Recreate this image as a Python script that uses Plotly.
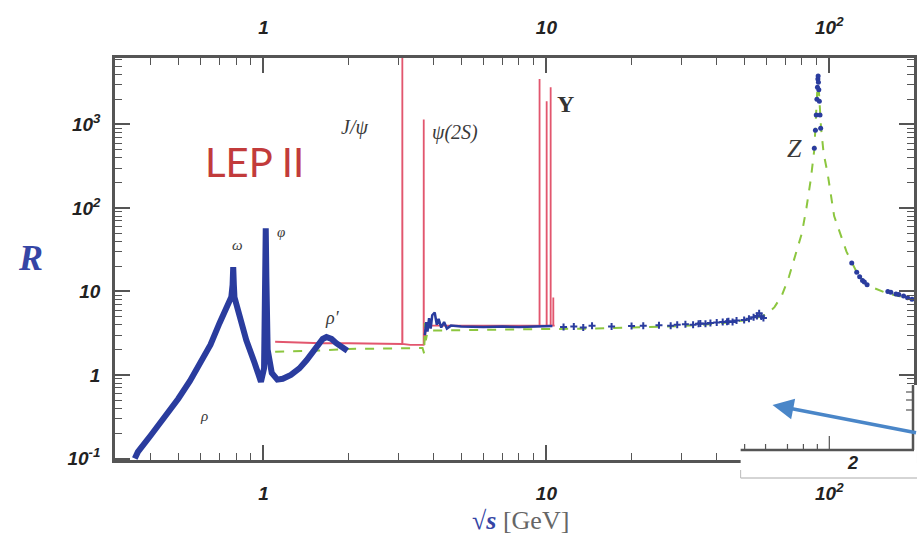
import math
import plotly.graph_objects as go

# ---------------- data ----------------
# low-energy hadronic data (rho / omega / phi / rho')
low_E = [0.351, 0.36, 0.40, 0.44, 0.50, 0.55, 0.60, 0.65, 0.70, 0.74, 0.77, 0.778, 0.782, 0.786, 0.79,
         0.83, 0.87, 0.93, 0.98, 1.005, 1.015, 1.019, 1.024, 1.035, 1.07, 1.12, 1.17, 1.25, 1.34, 1.42,
         1.49, 1.56, 1.62, 1.67, 1.74, 1.81, 1.87, 1.93, 1.98]
low_R = [0.10, 0.12, 0.19, 0.29, 0.52, 0.85, 1.4, 2.3, 4.2, 6.5, 8.6, 12.0, 19.6, 12.0, 8.5,
         4.5, 2.6, 1.4, 0.83, 1.2, 20.0, 57.0, 15.0, 2.0, 1.06, 0.88, 0.9, 1.0, 1.2, 1.5,
         1.83, 2.3, 2.7, 2.85, 2.7, 2.4, 2.2, 2.0, 1.95]

# charm / bottom region data
cb_E = [3.72, 3.76, 3.80, 3.85, 3.90, 3.95, 4.03, 4.10, 4.16, 4.25, 4.35, 4.45, 4.6, 5.0, 6.0, 7.0,
        8.0, 9.0, 10.0, 10.5]
cb_R = [3.0, 4.3, 3.3, 4.8, 3.6, 5.2, 5.6, 4.0, 4.7, 3.7, 4.3, 3.6, 3.9, 3.8, 3.75, 3.8,
        3.75, 3.8, 3.8, 3.85]

# continuum data points above the Upsilon
pl_E = [11.5, 12.5, 13.5, 14.5, 17, 20, 22, 25, 27.5, 29, 31, 33, 34.5, 35, 36.5, 38, 40, 42,
        43.5, 44, 45.5, 47, 50, 52, 54, 55.5, 56.5, 57.5, 58.5]
pl_R = [3.75, 3.8, 3.7, 3.9, 3.8, 3.85, 3.9, 3.95, 3.9, 4.0, 4.05, 4.0, 4.1, 4.15, 4.1, 4.2, 4.25, 4.3,
        4.35, 4.4, 4.3, 4.5, 4.55, 4.7, 4.9, 5.1, 5.5, 5.0, 4.8]

# Z-pole and LEP II data points
z_E = [88.5, 89.3, 89.9, 90.4, 90.8, 91.1, 91.3, 91.5, 91.8, 92.2, 92.7, 93.2,
       120, 125, 128, 131, 133, 136, 161, 165, 172, 176, 183, 189, 196]
z_R = [520, 850, 1300, 2000, 2800, 3500, 3800, 3200, 2600, 1900, 1300, 900,
       22, 17, 15, 13.5, 13, 12, 10, 9.8, 9.3, 9.2, 8.8, 8.4, 8.1]

# resonance curve (red)
red_E = [1.10, 1.30, 1.60, 2.00, 2.50, 3.00, 3.094, 3.097, 3.100, 3.30, 3.60, 3.683, 3.686, 3.689,
         3.75, 3.90, 4.50, 6.0, 8.0, 9.40, 9.457, 9.460, 9.463, 9.80, 10.020, 10.023, 10.026, 10.20,
         10.352, 10.355, 10.358, 10.50, 10.575, 10.58, 10.585, 10.70]
red_R = [2.5, 2.45, 2.4, 2.4, 2.35, 2.35, 2.35, 9000, 2.35, 2.3, 2.3, 2.3, 1150, 2.3,
         3.5, 3.9, 3.9, 3.9, 3.9, 3.9, 3.9, 3500, 3.9, 3.9, 3.9, 1900, 3.9, 3.9,
         3.9, 2800, 3.9, 3.9, 3.9, 8.5, 3.9, 3.9]

# parton-model / Z line (green dashed)
green_E = [1.10, 1.50, 2.00, 3.00, 3.65, 3.70, 3.72, 3.75, 3.80, 4.0, 5.0, 7.0, 10.0, 15.0, 20.0,
           30.0, 40.0, 50.0, 55.0, 60.0, 64.0, 68.0, 72.0, 76.0, 80.0, 83.0, 86.0, 88.5, 90.0, 91.2,
           92.4, 93.5, 95.5, 98.6, 104.0, 115.0, 125.0, 135.0, 160.0, 200.0]
green_R = [1.9, 1.95, 2.05, 2.1, 2.1, 1.8, 4.2, 2.6, 3.3, 3.4, 3.45, 3.5, 3.55, 3.6, 3.7,
           3.85, 4.1, 4.5, 4.8, 5.3, 6.5, 9.0, 15.0, 28.0, 50.0, 100.0, 220.0, 500.0, 1500.0, 3800.0,
           1800, 900, 450, 260, 80, 30, 17, 12, 9.5, 8.0]

# resonance labels
lab_text = ["ω", "φ", "ρ′", "ρ", "J/ψ", "ψ(2S)", "Υ", "Z"]
lab_E = [0.81, 1.15, 1.75, 0.615, 2.09, 4.74, 11.66, 75.3]
lab_R = [36, 52, 4.8, 0.32, 930, 810, 1760, 510]
lab_size = [15, 15, 18, 15, 20, 20, 24, 26]

x_tickvals = [1, 10, 100]
x_ticktext = ["1", "10", "10<sup>2</sup>"]
y_tickvals = [0.1, 1, 10, 100, 1000]
y_ticktext = ["10<sup>-1</sup>", "1", "10", "10<sup>2</sup>", "10<sup>3</sup>"]

# ---------------- figure ----------------
BLUE = "#2a3c9e"
AX = "#555555"
XR = [math.log10(0.2988), math.log10(199.2)]
YR = [-1.018, 3.796]

fig = go.Figure()
fig.add_trace(go.Scatter(x=red_E, y=red_R, mode="lines",
                         line=dict(color="#e2566e", width=1.8), hoverinfo="skip"))
fig.add_trace(go.Scatter(x=green_E, y=green_R, mode="lines",
                         line=dict(color="#8cc63f", width=2, dash="dash"), hoverinfo="skip"))
fig.add_trace(go.Scatter(x=low_E, y=low_R, mode="lines",
                         line=dict(color=BLUE, width=6), hoverinfo="skip"))
fig.add_trace(go.Scatter(x=cb_E, y=cb_R, mode="lines",
                         line=dict(color=BLUE, width=2.5), hoverinfo="skip"))
fig.add_trace(go.Scatter(x=pl_E, y=pl_R, mode="markers",
                         marker=dict(color=BLUE, size=5, symbol="cross-thin",
                                     line=dict(color=BLUE, width=2)), hoverinfo="skip"))
fig.add_trace(go.Scatter(x=z_E, y=z_R, mode="markers",
                         marker=dict(color=BLUE, size=5, symbol="circle"), hoverinfo="skip"))
# invisible trace for the top axis
fig.add_trace(go.Scatter(x=[1, 10], y=[1, 1], xaxis="x2", mode="markers",
                         marker=dict(opacity=0), hoverinfo="skip"))

tickfont = dict(family="Liberation Sans", size=19, weight="bold", style="italic", color="#222")
common = dict(type="log", showgrid=False, zeroline=False, showline=True, linecolor=AX, linewidth=2.5,
              ticks="inside", ticklen=15, tickwidth=1.5, tickcolor=AX, tickfont=tickfont,
              minor=dict(ticks="inside", ticklen=7, tickwidth=1.2, tickcolor=AX, dtick="D1", showgrid=False))

fig.update_layout(
    width=918, height=539,
    margin=dict(l=115, r=1, t=58, b=79),
    paper_bgcolor="white", plot_bgcolor="white",
    showlegend=False,
    xaxis=dict(range=XR, tickmode="array", tickvals=x_tickvals, ticktext=x_ticktext,
               ticklabelstandoff=14, **common),
    xaxis2=dict(range=XR, overlaying="x", side="top", anchor="y", tickmode="array",
                tickvals=x_tickvals, ticktext=x_ticktext, ticklabelstandoff=14, **common),
    yaxis=dict(range=YR, tickmode="array", tickvals=y_tickvals, ticktext=y_ticktext,
               mirror="ticks", ticklabelstandoff=8, **common),
)

anns = []
for t, e, r, s in zip(lab_text, lab_E, lab_R, lab_size):
    f = dict(family="Liberation Serif", size=s, style="italic", color="#3a3a3a")
    if t == "Υ":
        f = dict(family="Liberation Serif", size=s, weight="bold", color="#333")
    anns.append(dict(x=math.log10(e), y=math.log10(r), xref="x", yref="y", text=t,
                     xanchor="center", yanchor="middle", showarrow=False, font=f))

def px(xp):
    return (xp - 115) / 802

def py(yp):
    return (460 - yp) / 402

anns.append(dict(x=px(255), y=py(162), xref="paper", yref="paper", xanchor="center", yanchor="middle",
                 text="LEP II", showarrow=False,
                 font=dict(family="Lato", size=40, color="#c23b3b")))
anns.append(dict(x=px(30), y=py(258), xref="paper", yref="paper", xanchor="center", yanchor="middle",
                 text="<b><i>R</i></b>", showarrow=False,
                 font=dict(family="Liberation Serif", size=36, color="#3545a5")))
anns.append(dict(x=px(522), y=py(520), xref="paper", yref="paper", xanchor="center", yanchor="middle",
                 text="<span style='color:#3545a5'><b>√<i>s</i></b></span> <span style='color:#666'>[GeV]</span>",
                 showarrow=False, font=dict(family="Liberation Serif", size=26)))
# inset label and arrow
anns.append(dict(x=px(855), y=py(463), xref="paper", yref="paper", xanchor="center", yanchor="middle",
                 text="2", showarrow=False, font=dict(family="Liberation Sans", size=18,
                                                     weight="bold", style="italic", color="#222")))
anns.append(dict(x=px(775), y=py(405), xref="paper", yref="paper",
                 ax=145, ay=28, axref="pixel", ayref="pixel", text="", showarrow=True,
                 arrowhead=2, arrowsize=1.2, arrowwidth=3.5, arrowcolor="#4a86c8"))
fig.update_layout(annotations=anns)

shapes = [
    dict(type="rect", xref="paper", yref="paper", x0=px(743), x1=px(920), y0=py(478), y1=py(385),
         fillcolor="white", line=dict(width=0), layer="above"),
    dict(type="line", xref="paper", yref="paper", x0=px(743), x1=px(920), y0=py(478), y1=py(478),
         line=dict(color="#aaa", width=1), layer="above"),
    dict(type="line", xref="paper", yref="paper", x0=px(743), x1=px(743), y0=py(478), y1=py(470),
         line=dict(color="#bbb", width=1), layer="above"),
    dict(type="line", xref="paper", yref="paper", x0=px(743), x1=px(917), y0=py(450), y1=py(450),
         line=dict(color=AX, width=2.5), layer="above"),
    dict(type="line", xref="paper", yref="paper", x0=px(916), x1=px(916), y0=py(450), y1=py(385),
         line=dict(color=AX, width=2.5), layer="above"),
]
for tx in [747, 768, 790, 806, 820]:
    shapes.append(dict(type="line", xref="paper", yref="paper", x0=px(tx), x1=px(tx),
                       y0=py(450), y1=py(444), line=dict(color=AX, width=1.2), layer="above"))
shapes.append(dict(type="line", xref="paper", yref="paper", x0=px(832), x1=px(832),
                   y0=py(450), y1=py(436), line=dict(color=AX, width=1.2), layer="above"))
for ty in [392, 400, 410]:
    shapes.append(dict(type="line", xref="paper", yref="paper", x0=px(909), x1=px(916),
                       y0=py(ty), y1=py(ty), line=dict(color=AX, width=1.2), layer="above"))
fig.update_layout(shapes=shapes)

fig.write_html("out.html")
